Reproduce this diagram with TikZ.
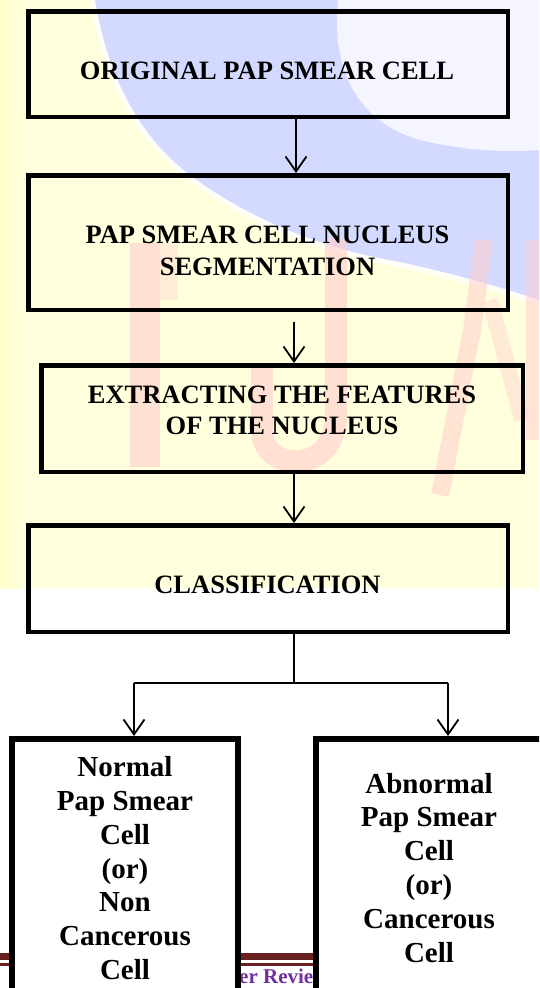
\documentclass[tikz,border=0pt]{standalone}
\usepackage{fontspec}
\setmainfont{Liberation Serif}
\usetikzlibrary{arrows.meta}
\definecolor{wmyellow}{RGB}{255,255,221}
\definecolor{wmyellowdeep}{RGB}{255,255,204}
\definecolor{wmblue}{RGB}{212,218,255}
\definecolor{wmred}{RGB}{255,204,204}
\definecolor{footred}{RGB}{105,32,32}
\definecolor{footpurple}{RGB}{112,48,160}
\tikzset{
  topbox/.style={draw=black, line width=4.5pt, rectangle, inner sep=0pt},
  botbox/.style={draw=black, fill=white, line width=6pt, rectangle, inner sep=0pt},
  bigtxt/.style={font=\bfseries\fontsize{26.5}{32}\selectfont, align=center, inner sep=0pt, anchor=base},
  smalltxt/.style={font=\bfseries\fontsize{29}{33.8}\selectfont, align=center, inner sep=0pt, anchor=base},
  arr/.style={draw=black, line width=1.8pt, -{Straight Barb[length=15pt,width=21pt]}},
  conn/.style={draw=black, line width=1.8pt}
}
\begin{document}
\begin{tikzpicture}[x=1pt,y=-1pt]
\useasboundingbox (0,0) rectangle (539,988);
\clip (0,0) rectangle (539,988);
% ---- watermark background ----
\fill[white] (0,0) rectangle (539,988);
\fill[wmyellow] (0,0) rectangle (539,588);
\fill[left color=wmyellowdeep, right color=wmyellow] (0,0) rectangle (28,588);
\draw[white, line width=10pt, opacity=0.8] (95,0) .. controls (105,60) and (130,130) .. (190,175) .. controls (230,205) and (300,245) .. (400,262) .. controls (460,275) and (510,290) .. (539,300);
\fill[wmblue] (95,0) .. controls (105,60) and (130,130) .. (190,175) .. controls (230,205) and (300,245) .. (400,262) .. controls (460,275) and (510,290) .. (539,300) -- (539,0) -- cycle;
\fill[white, opacity=0.75] (338,0) .. controls (332,60) and (350,120) .. (420,140) .. controls (470,152) and (510,152) .. (539,150) -- (539,0) -- cycle;
\fill[wmred, opacity=0.6] (130,243) rectangle (160,467);
\fill[wmred, opacity=0.35] (160,243) rectangle (178,300);
\draw[wmred, opacity=0.6, line width=22pt] (262,365) -- (262,430) .. controls (262,472) and (332,475) .. (336,420) -- (336,238);
\draw[wmred, opacity=0.55, line width=18pt] (484,240) -- (472,330) -- (440,495);
\draw[wmred, opacity=0.4, line width=16pt] (490,300) -- (522,420);
\draw[wmred, opacity=0.5, line width=14pt] (533,240) -- (533,440);
% ---- footer ----
\fill[footred] (0,953) rectangle (539,960);
\fill[footred] (0,963) rectangle (539,965.5);
\node[font=\bfseries\fontsize{21}{24}\selectfont, text=footpurple, anchor=base west, inner sep=0pt] (foot) at (239,983) {er Revie};
% ---- boxes ----
\node[topbox, minimum width=479.5pt, minimum height=105.5pt] (b1) at (268,64) {};
\node[topbox, minimum width=479.5pt, minimum height=134.5pt] (b2) at (268,242.5) {};
\node[topbox, minimum width=481.5pt, minimum height=106.5pt] (b3) at (282,418.5) {};
\node[topbox, minimum width=479.5pt, minimum height=106.5pt] (b4) at (268,578.5) {};
\node[botbox, minimum width=226pt, minimum height=271pt] (b5) at (125,874.5) {};
\node[botbox, minimum width=230pt, minimum height=271pt] (b6) at (431,874.5) {};
% ---- texts (anchor base = last line's baseline) ----
\node[bigtxt] (t1) at (267,79) {ORIGINAL PAP SMEAR CELL};
\node[bigtxt] (t2) at (267.5,275) {PAP SMEAR CELL NUCLEUS\\SEGMENTATION};
\node[bigtxt, font=\bfseries\fontsize{26.5}{31}\selectfont] (t3) at (282,434) {EXTRACTING THE FEATURES\\OF THE NUCLEUS};
\node[bigtxt] (t4) at (267.5,593) {CLASSIFICATION};
\node[smalltxt] (t5) at (125,979.5) {Normal\\Pap Smear\\Cell\\(or)\\Non\\Cancerous\\Cell};
\node[smalltxt] (t6) at (429,962) {Abnormal\\Pap Smear\\Cell\\(or)\\Cancerous\\Cell};
% ---- connectors ----
\coordinate (c1) at (296,0);
\coordinate (c2) at (294,0);
\coordinate (cl) at (134,683);
\coordinate (cr) at (448,683);
\coordinate (cm) at (294,683);
\draw[arr] (b1.south -| c1) -- (b2.north -| c1);
\draw[arr, shorten <=10pt] (b2.south -| c2) -- (b3.north -| c2);
\draw[arr] (b3.south -| c2) -- (b4.north -| c2);
\draw[conn] (b4.south -| c2) -- (cm);
\draw[conn] (cl) -- (cr);
\draw[arr] (cl) -- (b5.north -| cl);
\draw[arr] (cr) -- (b6.north -| cr);
\end{tikzpicture}
\end{document}
